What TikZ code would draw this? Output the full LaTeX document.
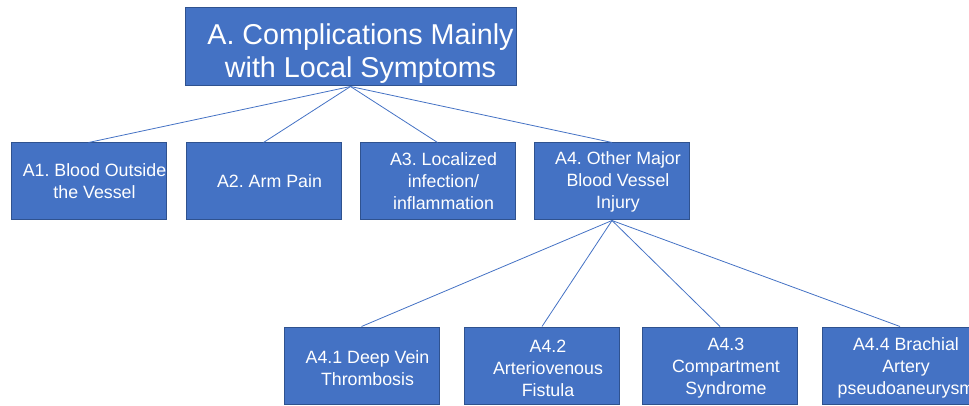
\documentclass[tikz,border=0pt]{standalone}
\usepackage{fontspec}
\setmainfont{Liberation Sans}
\usetikzlibrary{positioning}
\definecolor{boxblue}{HTML}{4472C4}
\definecolor{boxedge}{HTML}{2F528F}
\frenchspacing

\begin{document}
\begin{tikzpicture}[x=1pt,y=-1pt,
	box/.style={draw=boxedge,line width=1pt,fill=boxblue,
		minimum width=155pt,minimum height=77pt,inner sep=0pt},
	txt/.style={text=white,align=center,inner sep=0pt,
		font=\fontsize{17.8}{22}\selectfont},
	bigtxt/.style={txt,font=\fontsize{28.7}{33}\selectfont},
	link/.style={draw=boxblue,line width=0.8pt}]
	\useasboundingbox (0,0) rectangle (969,406);
	% top
	\node[box,minimum width=331pt,minimum height=78pt,
		label={[bigtxt,xshift=10pt,yshift=-6.5pt]center:{A. Complications Mainly\\with Local Symptoms}}] (a) at (350.5,47) {};
	% first level
	\node[box,label={[txt,xshift=6pt]center:{A1. Blood Outside\\the Vessel}}] (a1) at (88.5,181.5) {};
	\node[box,label={[txt,xshift=6pt]center:{A2. Arm Pain}}] (a2) at (263.5,181.5) {};
	\node[box,label={[txt,xshift=6pt]center:{A3. Localized\\infection/\\inflammation}}] (a3) at (437.5,181.5) {};
	\node[box,label={[txt,xshift=6pt]center:{A4. Other Major\\Blood Vessel\\Injury}}] (a4) at (612,181.5) {};
	% second level
	\node[box,label={[txt,xshift=6pt,yshift=-2.5pt]center:{A4.1 Deep Vein\\Thrombosis}}] (a41) at (361.5,365.5) {};
	\node[box,label={[txt,xshift=6pt,yshift=-2.5pt]center:{A4.2\\Arteriovenous\\Fistula}}] (a42) at (542,365.5) {};
	\node[box,label={[txt,xshift=6pt,yshift=-2.5pt]center:{A4.3\\Compartment\\Syndrome}}] (a43) at (720,365.5) {};
	\node[box,label={[txt,xshift=6pt,yshift=-2.5pt]center:{A4.4 Brachial\\Artery\\pseudoaneurysm}}] (a44) at (900,365.5) {};
	% links
	\foreach \n in {a1,a2,a3,a4}
		\draw[link] (a.south) -- (\n.north);
	\foreach \n in {a41,a42,a43,a44}
		\draw[link] (a4.south) -- (\n.north);
\end{tikzpicture}
\end{document}
